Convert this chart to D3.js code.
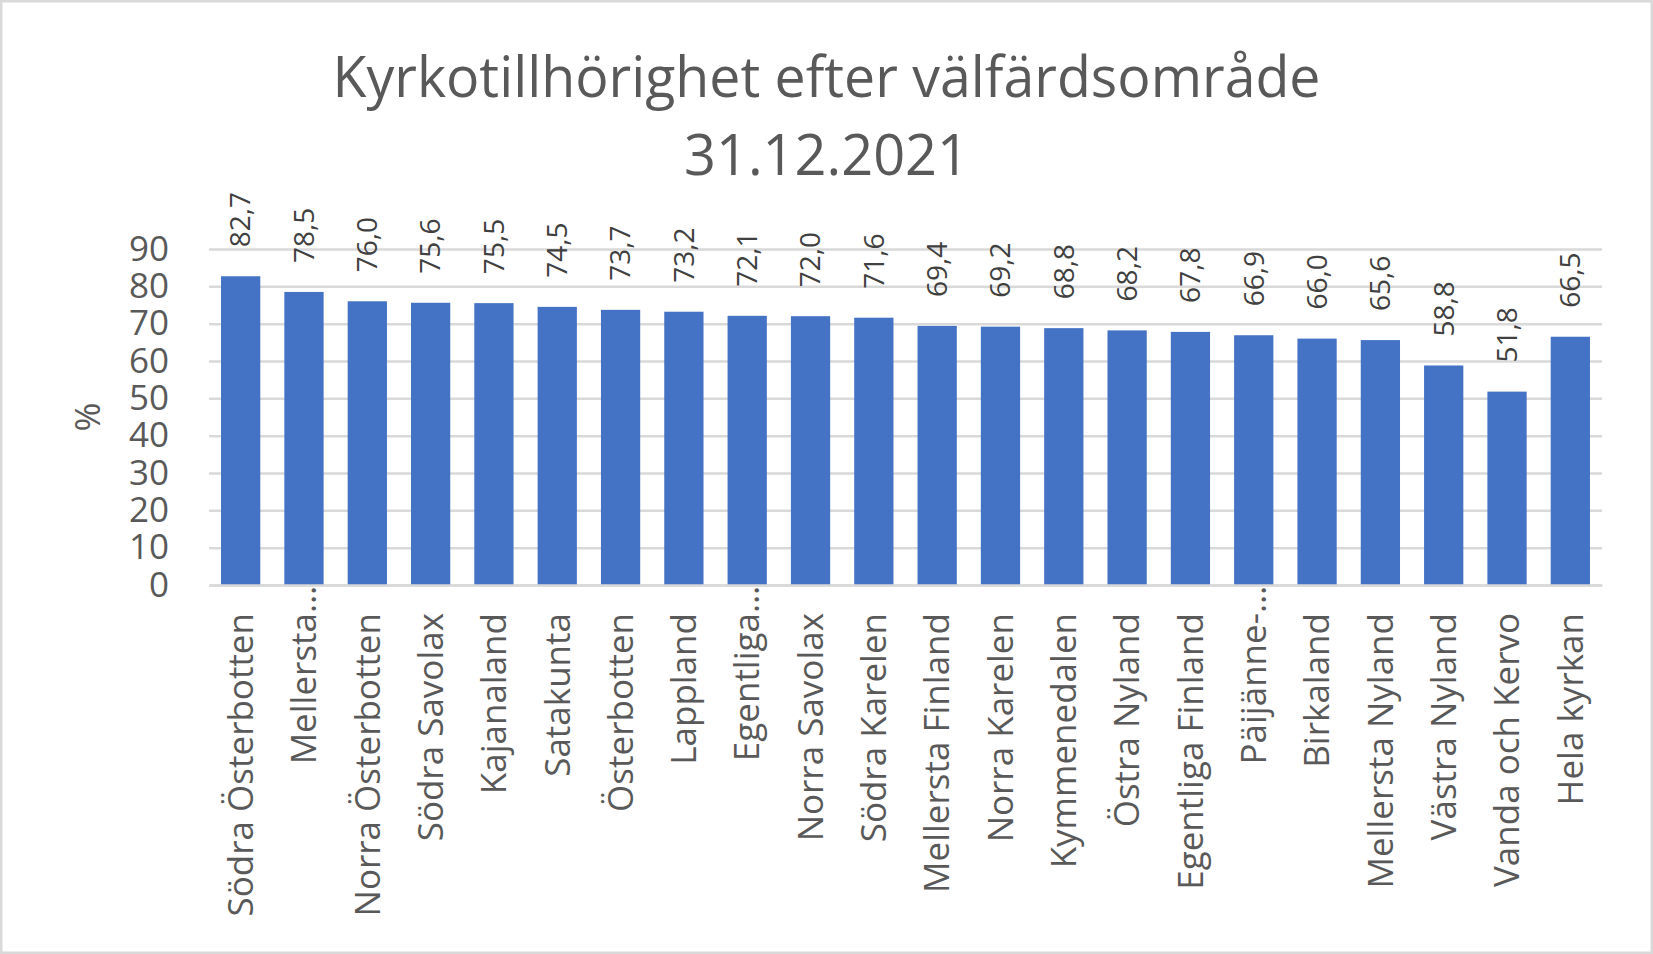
<!DOCTYPE html>
<html>
<head>
<meta charset="utf-8">
<script src="https://cdn.jsdelivr.net/npm/d3@7"></script>
<style>
  body { margin: 0; background: #fff; }
  text { font-family: "Open Sans", "Noto Sans", sans-serif; }
</style>
</head>
<body>
<svg id="chart"></svg>
<script>
// data
const categories = [
  "Södra Österbotten", "Mellersta…", "Norra Österbotten", "Södra Savolax",
  "Kajanaland", "Satakunta", "Österbotten", "Lappland", "Egentliga…",
  "Norra Savolax", "Södra Karelen", "Mellersta Finland", "Norra Karelen",
  "Kymmenedalen", "Östra Nyland", "Egentliga Finland", "Päijänne-…",
  "Birkaland", "Mellersta Nyland", "Västra Nyland", "Vanda och Kervo", "Hela kyrkan"
];
const values = [
  82.7, 78.5, 76.0, 75.6, 75.5, 74.5, 73.7, 73.2, 72.1, 72.0, 71.6,
  69.4, 69.2, 68.8, 68.2, 67.8, 66.9, 66.0, 65.6, 58.8, 51.8, 66.5
];
const yTicks = [0, 10, 20, 30, 40, 50, 60, 70, 80, 90];
const titleLines = ["Kyrkotillhörighet efter välfärdsområde", "31.12.2021"];
const yTitle = "%";

const width = 1653, height = 954;
const plot = { left: 209, right: 1602, top: 249, bottom: 585 };

const svg = d3.select("#chart")
  .attr("width", width)
  .attr("height", height);

svg.append("rect")
  .attr("x", 1.25).attr("y", 1.25)
  .attr("width", width - 2.5).attr("height", height - 2.5)
  .attr("fill", "#fff")
  .attr("stroke", "#d9d9d9")
  .attr("stroke-width", 2.5);

const x = d3.scaleBand()
  .domain(categories)
  .range([plot.left, plot.right])
  .paddingInner(0.38)
  .paddingOuter(0.19);

const y = d3.scaleLinear()
  .domain([0, 90])
  .range([plot.bottom, plot.top]);

const fmt = d3.formatLocale({ decimal: ",", thousands: " ", grouping: [3], currency: ["", ""] }).format(".1f");

// title, squeezed to the narrow width of the original font
const titleWidths = [988, 285];
const titleY = [97, 175];
titleLines.forEach((t, i) => {
  const el = svg.append("text")
    .attr("x", width / 2)
    .attr("y", titleY[i])
    .attr("text-anchor", "middle")
    .attr("fill", "#595959")
    .attr("font-size", 56)
    .text(t);
  el.attr("textLength", titleWidths[i]).attr("lengthAdjust", "spacingAndGlyphs");
});

// gridlines + y labels
const yAxis = svg.append("g")
  .attr("transform", `translate(${plot.left},0)`)
  .call(d3.axisLeft(y)
    .tickValues(yTicks)
    .tickSize(-(plot.right - plot.left))
    .tickSizeOuter(0)
    .tickPadding(40));
yAxis.select(".domain").remove();
yAxis.selectAll(".tick line")
  .attr("stroke", "#d9d9d9")
  .attr("stroke-width", 2.5);
yAxis.selectAll(".tick text")
  .attr("fill", "#595959")
  .attr("font-size", 35)
  .style("font-family", "'Open Sans', sans-serif");

svg.append("text")
  .attr("transform", `translate(88,${(plot.top + plot.bottom) / 2}) rotate(-90)`)
  .attr("text-anchor", "middle")
  .attr("dy", "0.35em")
  .attr("fill", "#595959")
  .attr("font-size", 35)
  .text(yTitle);

// bars
svg.append("g")
  .selectAll("rect")
  .data(values)
  .join("rect")
  .attr("x", (d, i) => x(categories[i]))
  .attr("y", d => y(d))
  .attr("width", x.bandwidth())
  .attr("height", d => y(0) - y(d))
  .attr("fill", "#4472c4");

// value labels
svg.append("g")
  .selectAll("text")
  .data(values)
  .join("text")
  .attr("transform", (d, i) => `translate(${x(categories[i]) + x.bandwidth() / 2},${y(d) - 29}) rotate(-90)`)
  .attr("text-anchor", "start")
  .attr("dy", "0.35em")
  .attr("fill", "#404040")
  .attr("font-size", 28)
  .text(d => fmt(d));

// x axis
const xAxis = svg.append("g")
  .attr("transform", `translate(0,${plot.bottom})`)
  .call(d3.axisBottom(x).tickSize(0).tickSizeOuter(0));
xAxis.select(".domain")
  .attr("stroke", "#d9d9d9")
  .attr("stroke-width", 2.5);
xAxis.selectAll(".tick text")
  .attr("transform", "rotate(-90)")
  .attr("text-anchor", "end")
  .attr("y", 0)
  .attr("x", -28)
  .attr("dy", "0.35em")
  .attr("fill", "#595959")
  .attr("font-size", 35)
  .style("font-family", "'Open Sans', sans-serif");

// truncated labels: the ellipsis hangs past the label start like in Excel
xAxis.selectAll(".tick text").each(function(d) {
  if (d.endsWith("…")) {
    const el = d3.select(this);
    const probe = svg.append("text").attr("font-size", 35).text("…");
    const w = probe.node().getComputedTextLength();
    probe.remove();
    el.attr("x", -28 + w);
  }
});
</script>
</body>
</html>
